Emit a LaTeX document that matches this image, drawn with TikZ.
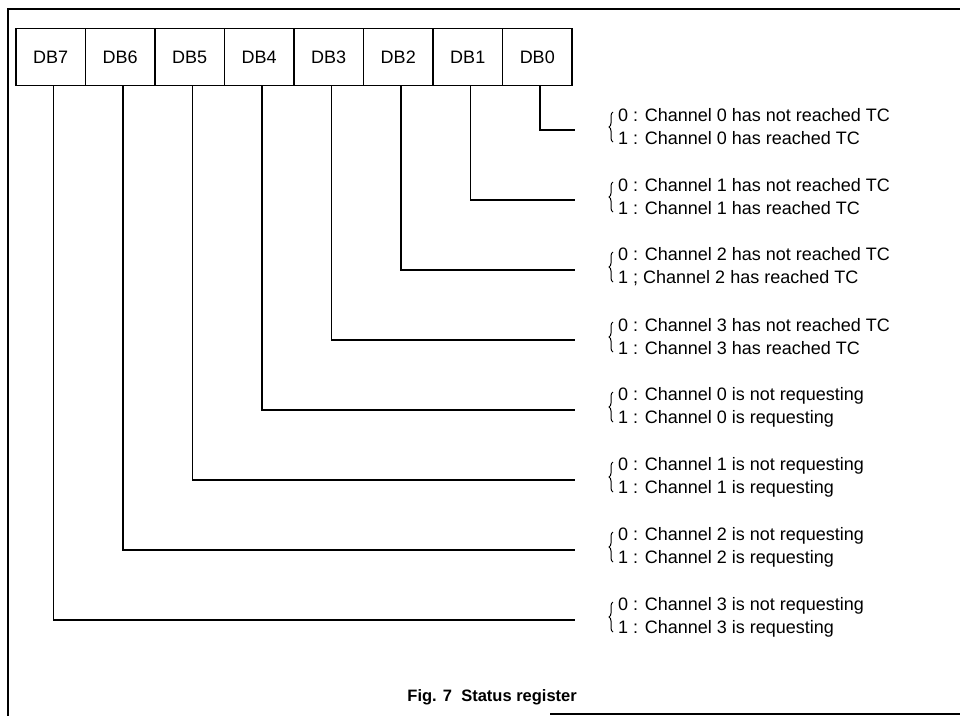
\documentclass[tikz,border=0pt]{standalone}
\usepackage{fontspec}
\setmainfont{Liberation Sans}
\usetikzlibrary{decorations.pathreplacing}
\begin{document}
\begin{tikzpicture}[x=1pt,y=-1pt,
  frame/.style={line width=1.6pt},
  bitbox/.style={draw, line width=1.4pt, minimum width=69.5pt, minimum height=57pt, inner sep=0pt, font=\fontsize{18}{22}\selectfont},
  desc/.style={anchor=west, align=left, inner sep=0pt, font=\fontsize{18}{23}\selectfont},
  brc/.style={decorate, decoration={brace, amplitude=4pt}, line width=1pt},
  wire/.style={line width=1.5pt},
  caption/.style={anchor=east, inner sep=0pt, font=\bfseries\fontsize{16.5}{19}\selectfont}]
\useasboundingbox (0,0) rectangle (960,716);
% frame
\draw[frame] (960,9) -- (8,9) -- (8,716);
\draw[frame] (550,714) -- (960,714);
% register bits
\foreach \i in {7,...,0}{
  \node[bitbox] (db\i) at ({50.75+69.5*(7-\i)},57) {DB\i};
}
% connectors
\foreach \i in {0,...,7}{
  \coordinate (e\i) at (575,{130+70*\i});
  \draw[wire] ([xshift=2.5pt]db\i.south) |- (e\i);
}
% descriptions
\node[desc] (t0) at (618,127) {0 : Channel 0 has not reached TC\\1 : Channel 0 has reached TC};
\node[desc] (t1) at (618,197) {0 : Channel 1 has not reached TC\\1 : Channel 1 has reached TC};
\node[desc] (t2) at (618,267) {0 : Channel 2 has not reached TC\\1 ; Channel 2 has reached TC};
\node[desc] (t3) at (618,337) {0 : Channel 3 has not reached TC\\1 : Channel 3 has reached TC};
\node[desc] (t4) at (618,407) {0 : Channel 0 is not requesting\\1 : Channel 0 is requesting};
\node[desc] (t5) at (618,477) {0 : Channel 1 is not requesting\\1 : Channel 1 is requesting};
\node[desc] (t6) at (618,547) {0 : Channel 2 is not requesting\\1 : Channel 2 is requesting};
\node[desc] (t7) at (618,617) {0 : Channel 3 is not requesting\\1 : Channel 3 is requesting};
\foreach \i in {0,...,7}{
  \draw[brc] ([xshift=-5pt,yshift=-15pt]t\i.west) -- ([xshift=-5pt,yshift=15pt]t\i.west);
}
% caption
\node[caption] (cap) at (577,697) {Fig. 7\ \ Status register};
\end{tikzpicture}
\end{document}
